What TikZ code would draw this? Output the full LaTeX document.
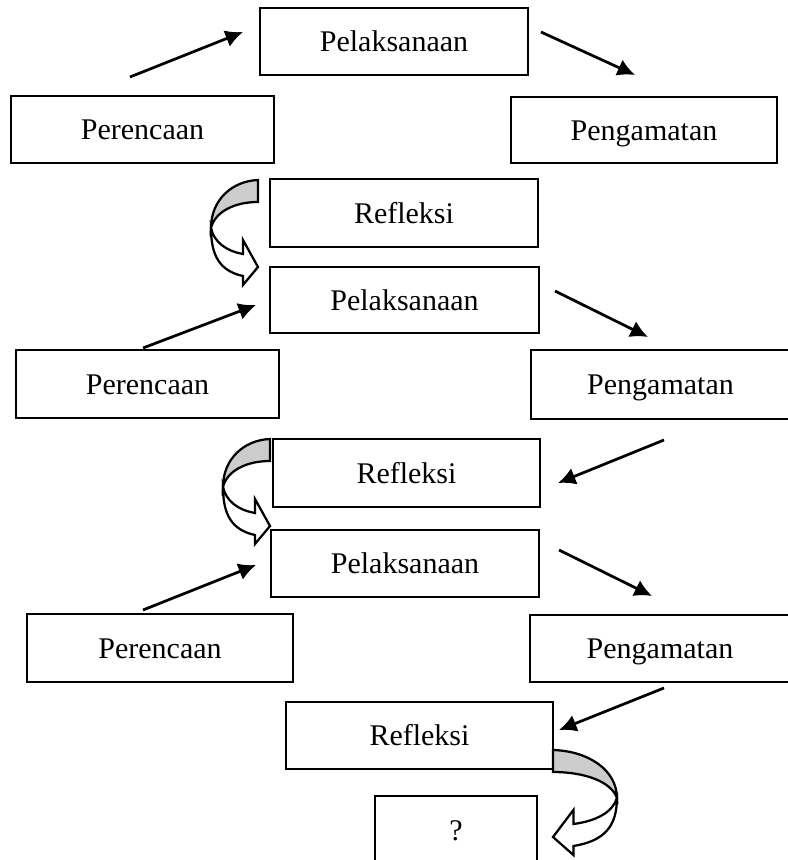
\documentclass[tikz,border=0pt]{standalone}
\usepackage{fontspec}
\setmainfont{Liberation Serif}
\usetikzlibrary{arrows.meta}

\begin{document}
\begin{tikzpicture}[
			x=0.4pt, y=-0.4pt,
			every node/.style={font=\fontsize{12}{14}\selectfont},
			box/.style={
				rectangle, draw, line width=0.8pt, inner sep=0pt,
				text height=8pt, text depth=0pt,
				align=center, minimum width=107.5pt, minimum height=27pt
			},
			arrow/.style={
				-{Latex[length=7pt,width=7pt]},
				line width=1.1pt
			},
			foldarrow/.pic={
				\draw[line width=0.9pt, fill=gray!40] (0,0) .. controls (-26,1) and (-47,20) .. (-47,48)
					.. controls (-43,32) and (-24,22) .. (0,22) -- cycle;
				\draw[line width=0.9pt, fill=white] (-47,48) .. controls (-44,62) and (-32,71) .. (-15,74)
					-- (-15,60) -- (0,87) -- (-15,105) -- (-15,96)
					.. controls (-38,91) and (-47,76) .. (-47,48) -- cycle;
			}
			]
			\useasboundingbox (0,0) rectangle (787,860);
			
			% cycle 1
			\node[box] (pel1) at (394,41.5) {Pelaksanaan};
			\node[box, minimum width=105.2pt] (per1) at (142.5,129.5) {Perencaan};
			\node[box, minimum width=106.4pt, minimum height=26.4pt] (peng1) at (644,130) {Pengamatan};
			\node[box] (ref1) at (404,213) {Refleksi};
			
			% cycle 2
			\node[box, minimum height=26.4pt] (pel2) at (404.5,300) {Pelaksanaan};
			\node[box, minimum width=105.2pt] (per2) at (147.5,384) {Perencaan};
			\node[box, minimum width=103.6pt, minimum height=27.6pt] (peng2) at (660.5,384.5) {Pengamatan};
			\node[box, minimum width=106.8pt] (ref2) at (406.5,473) {Refleksi};
			
			% cycle 3
			\node[box] (pel3) at (405,563.5) {Pelaksanaan};
			\node[box, minimum width=106.4pt] (per3) at (160,648) {Perencaan};
			\node[box, minimum width=104pt] (peng3) at (660,648.5) {Pengamatan};
			\node[box, minimum width=106.8pt] (ref3) at (419.5,735.5) {Refleksi};
			\node[box, minimum width=65pt] (next) at (456,830) {?};
			
			% arrow ends
			\coordinate (a1s) at (130,77);  \coordinate (a1e) at (243,32);
			\coordinate (a2s) at (541,32);  \coordinate (a2e) at (635,75);
			\coordinate (b1s) at (143,348); \coordinate (b1e) at (256,305);
			\coordinate (b2s) at (555,291); \coordinate (b2e) at (648,337);
			\coordinate (b3s) at (664,440); \coordinate (b3e) at (558,483);
			\coordinate (c1s) at (143,610); \coordinate (c1e) at (256,565);
			\coordinate (c2s) at (559,550); \coordinate (c2e) at (652,596);
			\coordinate (c3s) at (664,688); \coordinate (c3e) at (559,730);
			
			\draw[arrow] (a1s) -- (a1e);
			\draw[arrow] (a2s) -- (a2e);
			\draw[arrow] (b1s) -- (b1e);
			\draw[arrow] (b2s) -- (b2e);
			\draw[arrow] (b3s) -- (b3e);
			\draw[arrow] (c1s) -- (c1e);
			\draw[arrow] (c2s) -- (c2e);
			\draw[arrow] (c3s) -- (c3e);
			
			% curved arrows
			\pic at (258,180) {foldarrow};
			\pic at (270,439) {foldarrow};
			\pic[xscale=-1.36] at (553,750) {foldarrow};
			
		\end{tikzpicture}
\end{document}
